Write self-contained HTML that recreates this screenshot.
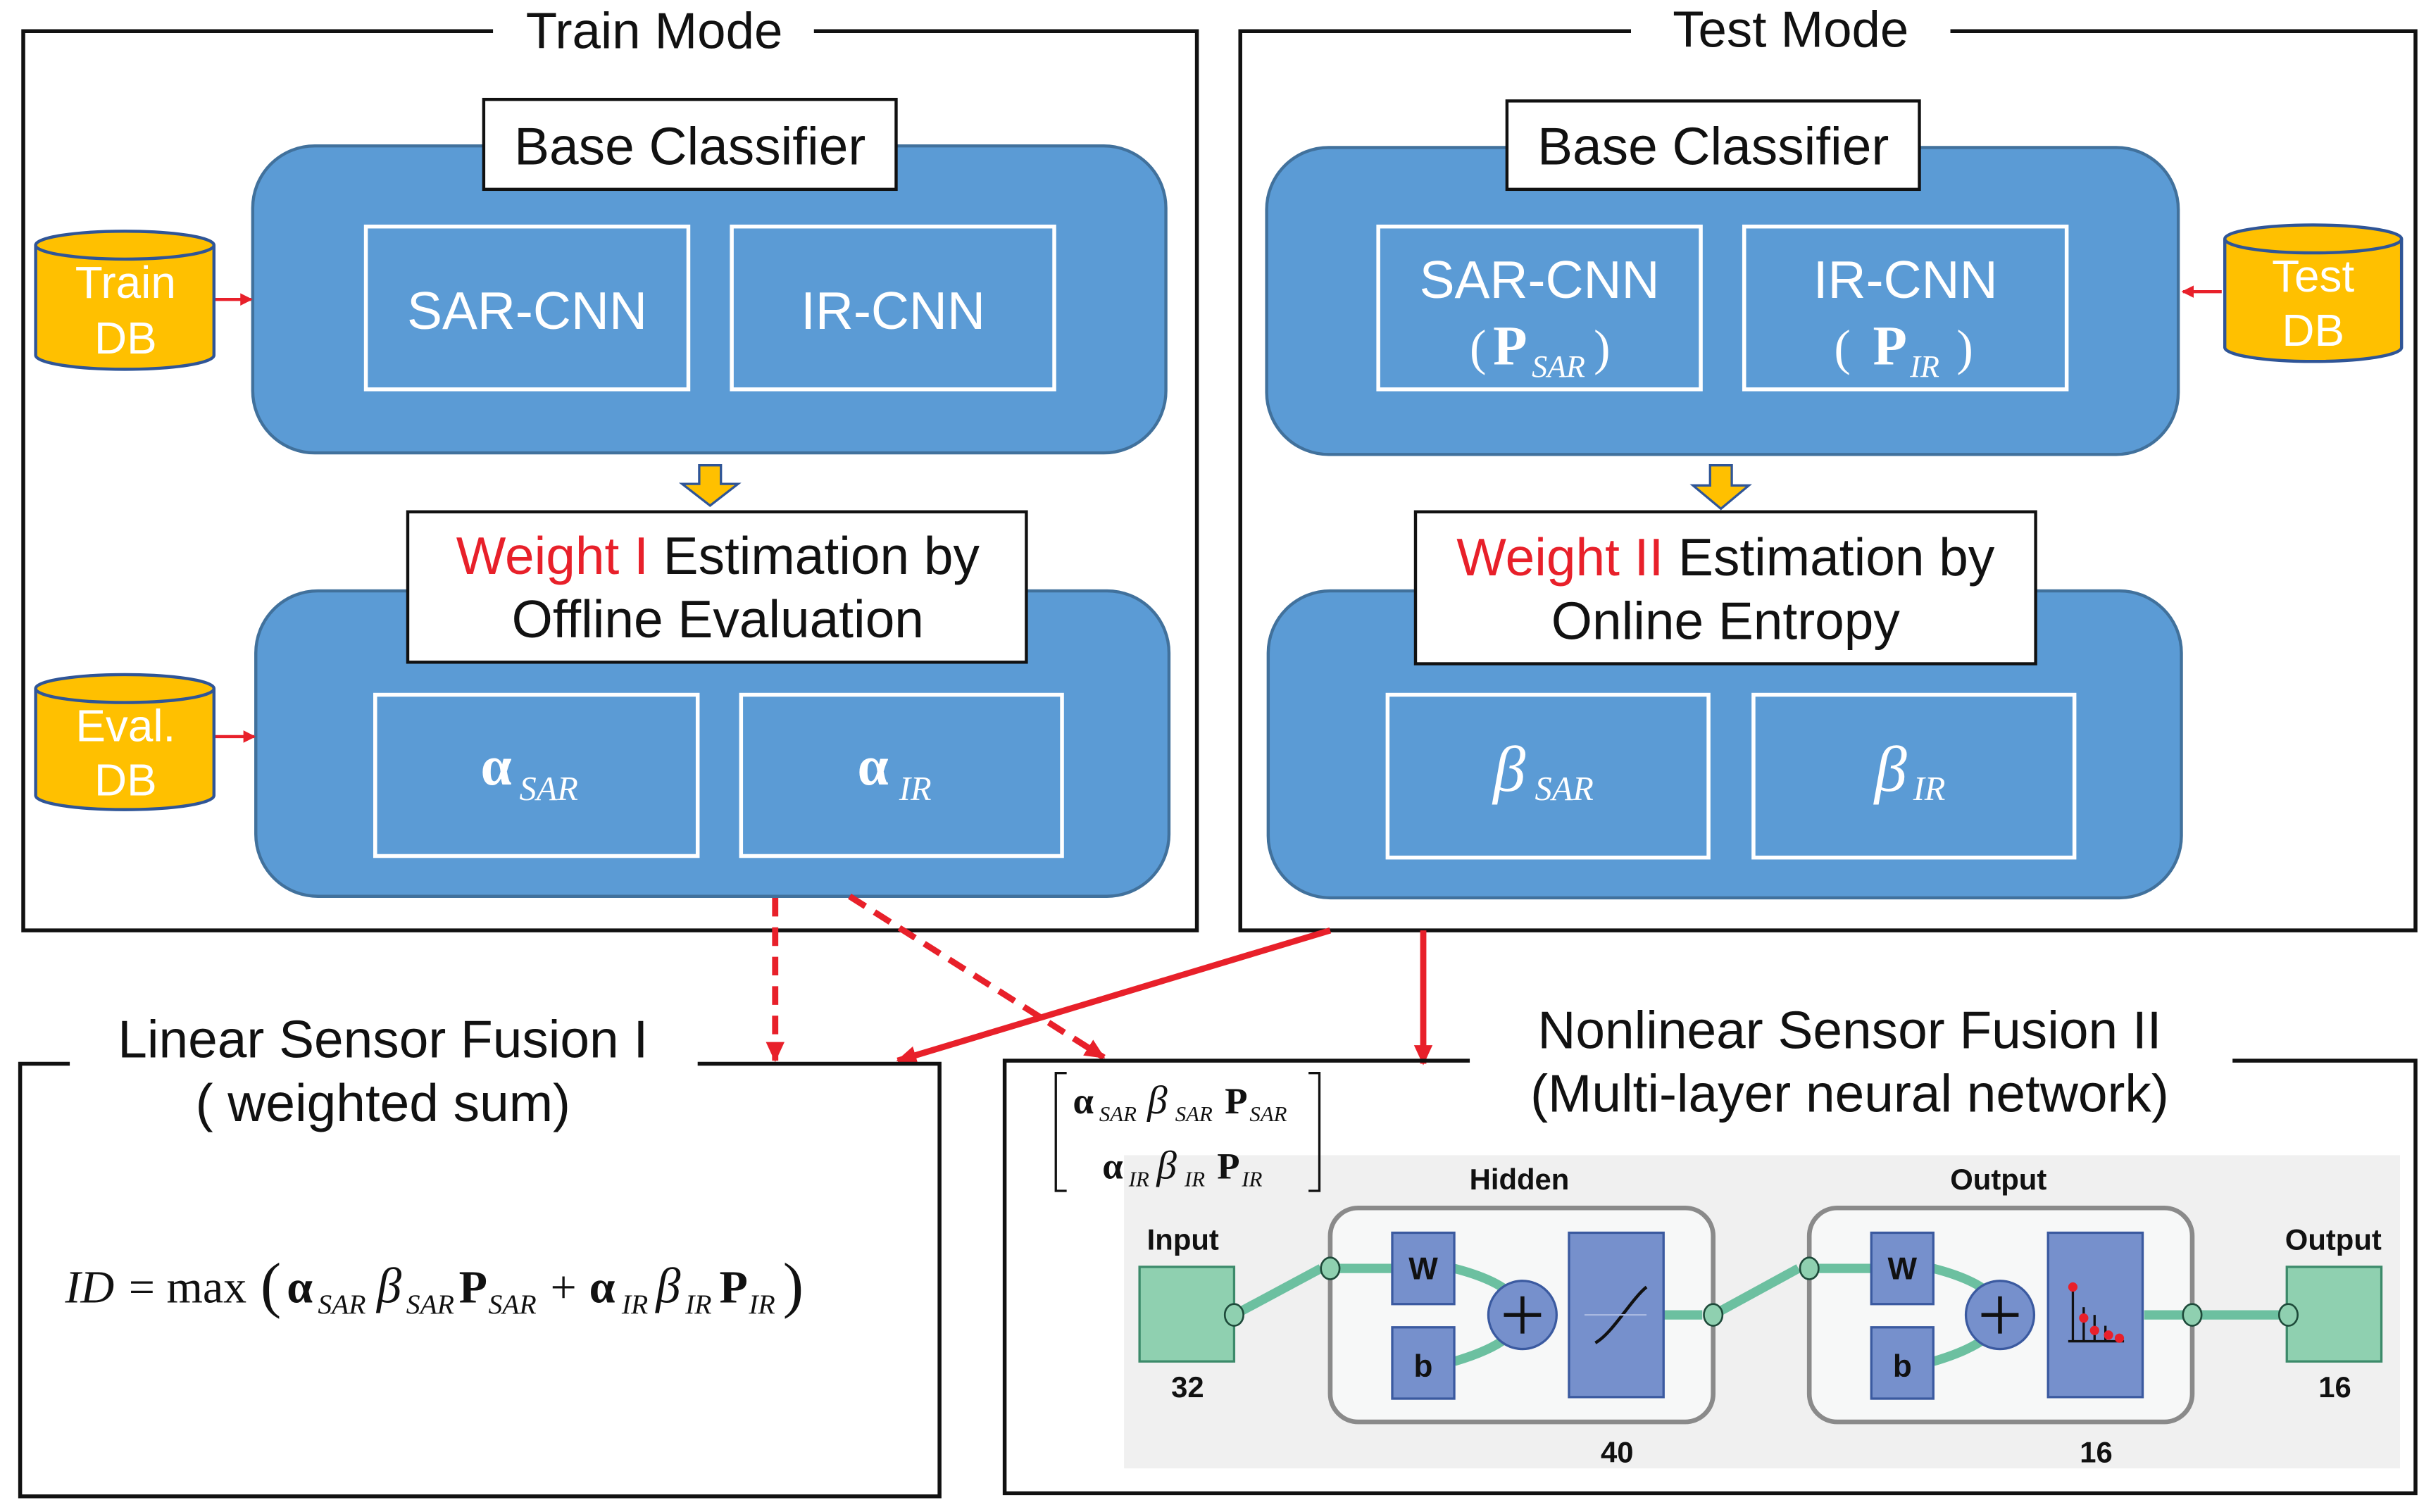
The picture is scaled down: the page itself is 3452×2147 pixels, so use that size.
<!DOCTYPE html>
<html><head><meta charset="utf-8"><style>
html,body{margin:0;padding:0;background:#fff;}
svg{display:block;}
text{font-family:"Liberation Sans",sans-serif;}
.m{font-family:"Liberation Serif",serif;}
</style></head><body>
<svg width="3452" height="2147" viewBox="0 0 1568 975" xmlns="http://www.w3.org/2000/svg">
<defs>
<marker id="ar" markerWidth="8" markerHeight="8" refX="7" refY="4" orient="auto" markerUnits="userSpaceOnUse"><path d="M0,0 L8,4 L0,8 Z" fill="#e8202a"/></marker>
<marker id="ar2" markerWidth="14" markerHeight="14" refX="12" refY="7" orient="auto" markerUnits="userSpaceOnUse"><path d="M0,1 L13,7 L0,13 Z" fill="#e8202a"/></marker>
</defs>
<rect width="1568" height="975" fill="#fff"/>
<path d="M318,20 H15 V600 H772 V20 H525" fill="none" stroke="#111" stroke-width="2.5"/>
<text x="422" y="31" font-size="33" text-anchor="middle" fill="#111">Train Mode</text>
<path d="M1052,20 H800 V600 H1558 V20 H1258" fill="none" stroke="#111" stroke-width="2.5"/>
<text x="1155" y="30" font-size="33" text-anchor="middle" fill="#111">Test Mode</text>

<g fill="#5b9bd5" stroke="#41719c" stroke-width="2">
<rect x="163" y="94" width="589" height="198" rx="40"/>
<rect x="165" y="381" width="589" height="197" rx="40"/>
<rect x="817" y="95" width="588" height="198" rx="40"/>
<rect x="818" y="381" width="589" height="198" rx="40"/>
</g>
<g fill="none" stroke="#fff" stroke-width="2.5">
<rect x="236" y="146" width="208" height="105"/>
<rect x="472" y="146" width="208" height="105"/>
<rect x="242" y="448" width="208" height="104"/>
<rect x="478" y="448" width="207" height="104"/>
<rect x="889" y="146" width="208" height="105"/>
<rect x="1125" y="146" width="208" height="105"/>
<rect x="895" y="448" width="207" height="105"/>
<rect x="1131" y="448" width="207" height="105"/>
</g>
<g fill="#fff" font-size="34" text-anchor="middle">
<text x="340" y="212">SAR-CNN</text>
<text x="576" y="212">IR-CNN</text>
<text x="993" y="192">SAR-CNN</text>
<text x="1229" y="192">IR-CNN</text>
</g>
<g fill="#fff" class="m">
<text x="948" y="235" font-size="32" class="m">(</text>
<text x="963" y="235" font-size="36" font-weight="bold" class="m">P</text>
<text x="988" y="243" font-size="20" font-style="italic" class="m">SAR</text>
<text x="1028" y="235" font-size="32" class="m">)</text>
<text x="1183" y="235" font-size="32" class="m">(</text>
<text x="1208" y="235" font-size="36" font-weight="bold" class="m">P</text>
<text x="1232" y="243" font-size="20" font-style="italic" class="m">IR</text>
<text x="1262" y="235" font-size="32" class="m">)</text>
<text x="310" y="506" font-size="36" font-weight="bold" class="m">α</text>
<text x="335" y="516" font-size="22" font-style="italic" class="m">SAR</text>
<text x="553" y="506" font-size="36" font-weight="bold" class="m">α</text>
<text x="580" y="516" font-size="22" font-style="italic" class="m">IR</text>
<text x="963" y="510" font-size="42" font-style="italic" class="m">β</text>
<text x="990" y="516" font-size="22" font-style="italic" class="m">SAR</text>
<text x="1209" y="510" font-size="42" font-style="italic" class="m">β</text>
<text x="1234" y="516" font-size="22" font-style="italic" class="m">IR</text>
</g>

<g fill="#fff" stroke="#111" stroke-width="2">
<rect x="312" y="64" width="266" height="58"/>
<rect x="972" y="65" width="266" height="57"/>
<rect x="263" y="330" width="399" height="97"/>
<rect x="913" y="330" width="400" height="98"/>
</g>
<g font-size="34" text-anchor="middle" fill="#111">
<text x="445" y="106">Base Classifier</text>
<text x="1105" y="106">Base Classifier</text>
<text x="463" y="370"><tspan fill="#e8202a">Weight I</tspan> Estimation by</text>
<text x="463" y="411">Offline Evaluation</text>
<text x="1113" y="371"><tspan fill="#e8202a">Weight II</tspan> Estimation by</text>
<text x="1113" y="412">Online Entropy</text>
</g>

<g fill="#ffc000" stroke="#2f5597" stroke-width="1.5">
<path d="M451,300 H465 V312 H476 L458,326 L440,312 H451 Z"/>
<path d="M1103,300 H1117 V313 H1128 L1110,328 L1092,313 H1103 Z"/>
</g>

<g fill="#ffc000" stroke="#2f5597" stroke-width="2">
<path d="M23,158 V229 A57,9 0 0 0 138,229 V158"/><ellipse cx="80.5" cy="158" rx="57.5" ry="9"/>
<path d="M23,444 V513 A57,9 0 0 0 138,513 V444"/><ellipse cx="80.5" cy="444" rx="57.5" ry="9"/>
<path d="M1435,154 V224 A57,9 0 0 0 1549,224 V154"/><ellipse cx="1492" cy="154" rx="57" ry="9"/>
</g>
<g fill="#fff" font-size="29" text-anchor="middle">
<text x="81" y="192">Train</text><text x="81" y="228">DB</text>
<text x="81" y="478">Eval.</text><text x="81" y="513">DB</text>
<text x="1492" y="188">Test</text><text x="1492" y="223">DB</text>
</g>
<g stroke="#e8202a" stroke-width="2">
<line x1="139" y1="193" x2="162" y2="193" marker-end="url(#ar)"/>
<line x1="139" y1="475" x2="164" y2="475" marker-end="url(#ar)"/>
<line x1="1433" y1="188" x2="1408" y2="188" marker-end="url(#ar)"/>
</g>

<g stroke="#e8202a" stroke-width="4" fill="none">
<line x1="500" y1="579" x2="500" y2="684" stroke-dasharray="12,7" marker-end="url(#ar2)"/>
<line x1="548" y1="578" x2="712" y2="682" stroke-dasharray="12,7" marker-end="url(#ar2)"/>
<line x1="858" y1="600" x2="579" y2="684" marker-end="url(#ar2)"/>
<line x1="918" y1="600" x2="918" y2="686" marker-end="url(#ar2)"/>
</g>

<path d="M45,686 H13 V965 H606 V686 H450" fill="none" stroke="#111" stroke-width="2.5"/>
<text x="247" y="682" font-size="34" text-anchor="middle" fill="#111">Linear Sensor Fusion I</text>
<text x="247" y="723" font-size="34" text-anchor="middle" fill="#111">( weighted sum)</text>
<path d="M948,684 H648 V963 H1558 V684 H1440" fill="none" stroke="#111" stroke-width="2.5"/>
<text x="1193" y="676" font-size="34" text-anchor="middle" fill="#111">Nonlinear Sensor Fusion II</text>
<text x="1193" y="717" font-size="34" text-anchor="middle" fill="#111">(Multi-layer neural network)</text>

<g class="m" fill="#111">
<text x="42" y="840" font-size="30" font-style="italic" class="m">ID</text>
<text x="83" y="840" font-size="30" class="m">= max</text>
<text x="168" y="842" font-size="40" class="m">(</text>
<text x="185" y="840" font-size="30" font-weight="bold" class="m">α</text>
<text x="205" y="847" font-size="18" font-style="italic" class="m">SAR</text>
<text x="243" y="840" font-size="32" font-style="italic" class="m">β</text>
<text x="262" y="847" font-size="18" font-style="italic" class="m">SAR</text>
<text x="296" y="840" font-size="30" font-weight="bold" class="m">P</text>
<text x="315" y="847" font-size="18" font-style="italic" class="m">SAR</text>
<text x="355" y="840" font-size="30" class="m">+</text>
<text x="380" y="840" font-size="30" font-weight="bold" class="m">α</text>
<text x="401" y="847" font-size="18" font-style="italic" class="m">IR</text>
<text x="423" y="840" font-size="32" font-style="italic" class="m">β</text>
<text x="442" y="847" font-size="18" font-style="italic" class="m">IR</text>
<text x="464" y="840" font-size="30" font-weight="bold" class="m">P</text>
<text x="483" y="847" font-size="18" font-style="italic" class="m">IR</text>
<text x="505" y="842" font-size="40" class="m">)</text>
</g>

<rect x="725" y="745" width="823" height="202" fill="#f0f0f0"/>
<path d="M688,692 H681 V768 H688 M844,692 H851 V768 H844" fill="none" stroke="#111" stroke-width="1.5"/>
<g class="m" fill="#111">
<text x="692" y="718" font-size="24" font-weight="bold" class="m">α</text>
<text x="709" y="723" font-size="14" font-style="italic" class="m">SAR</text>
<text x="740" y="718" font-size="26" font-style="italic" class="m">β</text>
<text x="758" y="723" font-size="14" font-style="italic" class="m">SAR</text>
<text x="790" y="718" font-size="24" font-weight="bold" class="m">P</text>
<text x="806" y="723" font-size="14" font-style="italic" class="m">SAR</text>
<text x="711" y="760" font-size="24" font-weight="bold" class="m">α</text>
<text x="728" y="765" font-size="14" font-style="italic" class="m">IR</text>
<text x="746" y="760" font-size="26" font-style="italic" class="m">β</text>
<text x="764" y="765" font-size="14" font-style="italic" class="m">IR</text>
<text x="785" y="760" font-size="24" font-weight="bold" class="m">P</text>
<text x="801" y="765" font-size="14" font-style="italic" class="m">IR</text>
</g>
<g font-size="19" font-weight="bold" fill="#111" text-anchor="middle">
<text x="980" y="767">Hidden</text>
<text x="1289" y="767">Output</text>
<text x="763" y="806">Input</text>
<text x="1505" y="806">Output</text>
<text x="766" y="901">32</text>
<text x="1043" y="943">40</text>
<text x="1352" y="943">16</text>
<text x="1506" y="901">16</text>
</g>
<g fill="#f7f8f8" stroke="#8a8a8a" stroke-width="3">
<rect x="858" y="779" width="247" height="138" rx="18"/>
<rect x="1167" y="779" width="247" height="138" rx="18"/>
</g>
<g stroke="#6cc0a0" stroke-width="6" fill="none">
<path d="M796,848 L852,818"/>
<path d="M858,818 H898"/>
<path d="M938,818 Q965,825 975,835"/>
<path d="M938,878 Q965,870 975,860"/>
<path d="M1073,848 H1098"/>
<path d="M1105,848 L1160,818"/>
<path d="M1167,818 H1207"/>
<path d="M1247,818 Q1274,825 1284,835"/>
<path d="M1247,878 Q1274,870 1284,860"/>
<path d="M1383,848 H1470"/>
</g>
<g fill="#8fd0b0" stroke="#3c8a6a" stroke-width="1.5">
<rect x="735" y="817" width="61" height="61"/>
<rect x="1475" y="817" width="61" height="61"/>
</g>
<g fill="#7690cc" stroke="#3b5aa0" stroke-width="1.5">
<rect x="898" y="795" width="40" height="46"/>
<rect x="898" y="856" width="40" height="46"/>
<rect x="1012" y="795" width="61" height="106"/>
<rect x="1207" y="795" width="40" height="46"/>
<rect x="1207" y="856" width="40" height="46"/>
<rect x="1321" y="795" width="61" height="106"/>
<circle cx="982" cy="848" r="22"/>
<circle cx="1290" cy="848" r="22"/>
</g>
<g font-size="20" font-weight="bold" fill="#111" text-anchor="middle">
<text x="918" y="825">W</text><text x="918" y="888">b</text>
<text x="1227" y="825">W</text><text x="1227" y="888">b</text>
</g>
<g stroke="#111" stroke-width="2.5">
<line x1="970" y1="848" x2="994" y2="848"/><line x1="982" y1="836" x2="982" y2="860"/>
<line x1="1278" y1="848" x2="1302" y2="848"/><line x1="1290" y1="836" x2="1290" y2="860"/>
</g>
<path d="M1029,866 C1040,860 1052,838 1062,830" stroke="#111" stroke-width="2" fill="none"/>
<line x1="1022" y1="848" x2="1062" y2="848" stroke="#a8b8e0" stroke-width="1"/>
<g stroke="#111" stroke-width="1.5">
<line x1="1337" y1="830" x2="1337" y2="865"/><line x1="1344" y1="843" x2="1344" y2="865"/>
<line x1="1351" y1="848" x2="1351" y2="865"/><line x1="1358" y1="855" x2="1358" y2="865"/>
<line x1="1334" y1="865" x2="1370" y2="865"/>
</g>
<g fill="#e8202a">
<circle cx="1337" cy="830" r="3"/><circle cx="1344" cy="850" r="3"/><circle cx="1351" cy="858" r="3"/><circle cx="1360" cy="861" r="3"/><circle cx="1367" cy="863" r="3"/>
</g>
<g fill="#8fd0b0" stroke="#1e4a3a" stroke-width="1.2">
<ellipse cx="796" cy="848" rx="6" ry="7"/>
<ellipse cx="858" cy="818" rx="6" ry="7"/>
<ellipse cx="1105" cy="848" rx="6" ry="7"/>
<ellipse cx="1167" cy="818" rx="6" ry="7"/>
<ellipse cx="1414" cy="848" rx="6" ry="7"/>
<ellipse cx="1476" cy="848" rx="6" ry="7"/>
</g>
</svg>
</body></html>
